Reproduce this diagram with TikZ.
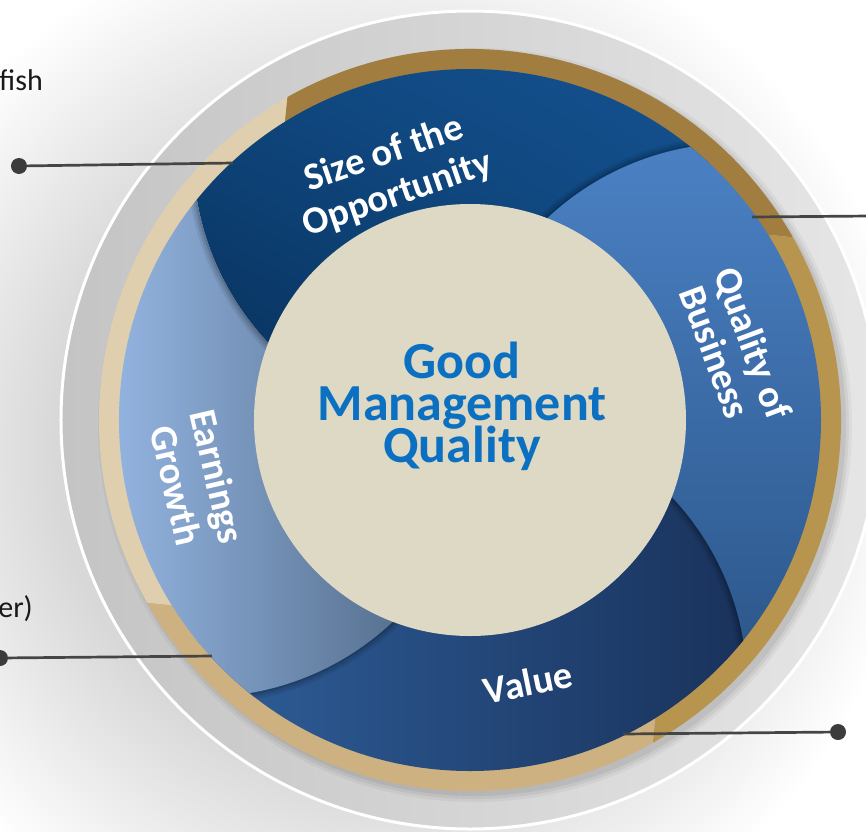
\documentclass[tikz,border=0pt]{standalone}
\usepackage{fontspec}
\setmainfont{Carlito}
\usetikzlibrary{shadings}
\definecolor{haloc}{HTML}{D8D8D8}
\definecolor{grayL}{HTML}{C4C4C4}
\definecolor{grayM}{HTML}{CACACA}
\definecolor{grayR}{HTML}{E6E6E6}
\definecolor{goldA}{HTML}{A17E40}
\definecolor{goldB}{HTML}{B8954F}
\definecolor{goldC}{HTML}{CDB181}
\definecolor{goldD}{HTML}{DFCFAE}
\definecolor{beige}{HTML}{DED9C4}
\definecolor{ctrblue}{HTML}{0B70C1}
\definecolor{linec}{HTML}{454545}
\definecolor{dotc}{HTML}{3C3C3C}
\definecolor{szUL}{HTML}{0F467D}
\definecolor{szUR}{HTML}{155291}
\definecolor{szLL}{HTML}{08315C}
\definecolor{szLR}{HTML}{0F487F}
\definecolor{quT}{HTML}{4B81C4}
\definecolor{quB}{HTML}{2C578B}
\definecolor{vaL}{HTML}{2E5D98}
\definecolor{vaR}{HTML}{19325B}
\definecolor{eaL}{HTML}{93B4E0}
\definecolor{eaR}{HTML}{556E8D}
\pgfdeclareradialshading{halo}{\pgfpoint{0bp}{0bp}}{color(0bp)=(haloc); color(15bp)=(haloc); color(25bp)=(white); color(50bp)=(white)}
\newcommand\sizeshade{\shade[upper left=szUL, upper right=szUR, lower left=szLL, lower right=szLR] (-300,60) rectangle (240,355);}
\newcommand\qualshade{\shade[top color=quT, bottom color=quB] (0,-240) rectangle (360,280);}
\newcommand\valueshade{\shade[left color=vaL, right color=vaR] (-260,-360) rectangle (280,-60);}
\newcommand\earnshade{\shade[left color=eaL, right color=eaR] (-355,-280) rectangle (-60,280);}
\newcommand\segshadow[1]{%
  \draw[black, opacity=0.07, line width=14pt] #1 circle (277);
  \draw[black, opacity=0.09, line width=9pt] #1 circle (277);
  \draw[black, opacity=0.12, line width=4pt] #1 circle (277);}
\tikzset{
  lbl/.style={font=\bfseries\fontsize{38.5}{40}\selectfont, text=white, inner sep=0pt, anchor=base},
  ctr/.style={font=\bfseries\fontsize{52}{52}\selectfont, text=ctrblue, inner sep=0pt, anchor=base},
  side/.style={font=\fontsize{30}{32}\selectfont, text=black!90, inner sep=0pt, anchor=base east},
  conn/.style={draw=linec, line width=2.7pt},
  dotnode/.style={circle, fill=dotc, inner sep=0pt, minimum size=16pt}
}
\begin{document}
\begin{tikzpicture}[x=1pt,y=1pt]
\useasboundingbox (-470,-411) rectangle (396,420);
\clip (-470,-411) rectangle (396,420);
\fill[white] (-470,-411) rectangle (396,420);
% soft halo
\shade[shading=halo] (-90,-30) circle (540);
% grey disc
\shade[left color=grayL, middle color=grayM, right color=grayR] (0,0) circle (409);
% shadow of gold ring, cast to the lower right
\foreach \k/\o in {9/0.04, 6/0.05, 3/0.06}
  \fill[black, opacity=\o] (5,-5) circle (368+\k);
\draw[white, line width=3pt] (0,0) circle (409);
% gold ring segments
\fill[goldA] (33.3:340) arc[start angle=33.3, end angle=123.3, radius=340] -- (119.5:371) arc[start angle=119.5, end angle=29.5, radius=371] -- cycle;
\fill[goldB] (-56.7:340) arc[start angle=-56.7, end angle=33.3, radius=340] -- (29.5:371) arc[start angle=29.5, end angle=-60.5, radius=371] -- cycle;
\fill[goldC] (-146.7:340) arc[start angle=-146.7, end angle=-56.7, radius=340] -- (-60.5:371) arc[start angle=-60.5, end angle=-150.5, radius=371] -- cycle;
\fill[goldD] (123.3:340) arc[start angle=123.3, end angle=213.3, radius=340] -- (209.5:371) arc[start angle=209.5, end angle=119.5, radius=371] -- cycle;
% blue pinwheel
\begin{scope}
  \clip (0,0) circle (351);
  % size of the opportunity (bottom layer)
  \begin{scope}\clip (0,267) circle (277); \sizeshade \end{scope}
  % quality of business over it
  \begin{scope}\clip (0,267) circle (277); \segshadow{(267,0)} \end{scope}
  \begin{scope}\clip (267,0) circle (277); \qualshade \end{scope}
  % value over quality
  \begin{scope}\clip (0,-267) circle (277); \valueshade \segshadow{(0,-267)} \end{scope}
  \begin{scope}\clip (0,-267) circle (277); \segshadow{(-267,0)} \end{scope}
  % earnings growth: only where the size segment is not
  \begin{scope}[even odd rule]
    \clip (-267,0) circle (277);
    \clip (-500,-500) rectangle (500,500) (0,267) circle (277);
    \earnshade
    \segshadow{(0,267)}
  \end{scope}
\end{scope}
% centre disc
\fill[beige] (0,0) circle (216);
% labels
\node[ctr] (good) at (-8,42) {Good};
\node[ctr] (mgmt) at (-8,0) {Management};
\node[ctr] (qual) at (-8,-42) {Quality};
\node[lbl, rotate=19] (size1) at (-82.6,255.5) {Size of the};
\node[lbl, rotate=19] (size2) at (-68.7,215.3) {Opportunity};
\node[lbl, rotate=-69.5] (qb1) at (270.7,72.3) {Quality of};
\node[lbl, rotate=-69.5] (qb2) at (233.0,63.3) {Business};
\node[lbl, rotate=11.5] (value) at (60.6,-275.8) {Value};
\node[lbl, rotate=-77] (eg1) at (-265,-59) {Earnings};
\node[lbl, rotate=-77] (eg2) at (-306.6,-68.6) {Growth};
% side texts (cut by the frame)
\node[side] (fish) at (-427,330) {fish};
\node[side] (er) at (-437,-197) {er)};
% connectors
\coordinate (c1) at (-237,257);
\coordinate (c2) at (282,203);
\coordinate (e2) at (400,204);
\coordinate (c3) at (-258,-236);
\coordinate (c4) at (153,-314);
\node[dotnode] (d1) at (-451,254) {};
\node[dotnode] (d3) at (-470,-238) {};
\node[dotnode] (d4) at (368,-312) {};
\draw[conn] (d1) -- (c1);
\draw[conn] (c2) -- (e2);
\draw[conn] (d3) -- (c3);
\draw[conn] (c4) -- (d4);
\end{tikzpicture}
\end{document}
